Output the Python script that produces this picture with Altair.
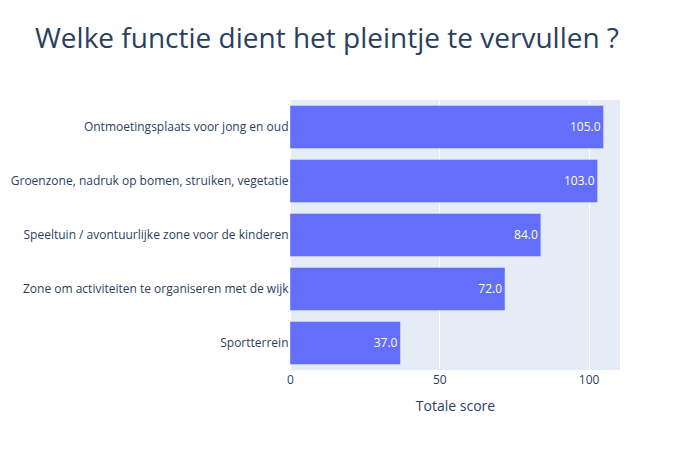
import altair as alt
import pandas as pd

categories = [
    "Ontmoetingsplaats voor jong en oud",
    "Groenzone, nadruk op bomen, struiken, vegetatie",
    "Speeltuin / avontuurlijke zone voor de kinderen",
    "Zone om activiteiten te organiseren met de wijk",
    "Sportterrein",
]
scores = [105.0, 103.0, 84.0, 72.0, 37.0]

df = pd.DataFrame({"functie": categories, "score": scores})
df["label"] = df["score"].map(lambda v: f"{v:.1f}")

FONT = "Open Sans"
TXT = "#2a3f5f"

base = alt.Chart(df).encode(
    y=alt.Y(
        "functie:N",
        sort=categories,
        title=None,
        scale=alt.Scale(paddingInner=0.2, paddingOuter=0.1),
        axis=alt.Axis(
            ticks=False, domain=False, grid=False, labelPadding=2,
            labelFont=FONT, labelFontSize=12, labelColor=TXT, labelLimit=400,
        ),
    ),
    x=alt.X(
        "score:Q",
        title="Totale score",
        scale=alt.Scale(domain=[0, 110.5], nice=False, zero=True),
        axis=alt.Axis(
            values=[0, 50, 100], ticks=False, domain=False, grid=True,
            gridColor="white", gridWidth=1, labelPadding=4, labelFlush=False,
            labelFont=FONT, labelFontSize=12, labelColor=TXT,
            titleFont=FONT, titleFontSize=14, titleColor=TXT,
            titleFontWeight="normal", titlePadding=14,
        ),
    ),
)

bars = base.mark_bar(color="#636efa", stroke="#E5ECF6", strokeWidth=0.5)
text = base.mark_text(
    align="right", baseline="middle", dx=-3, color="white",
    font=FONT, fontSize=12,
).encode(text="label:N")

chart = (
    (bars + text)
    .properties(
        width=330,
        height=270,
        autosize=alt.AutoSizeParams(type="none"),
        padding={"left": 282, "top": 92, "right": 70, "bottom": 70},
        title=alt.TitleParams(
            "Welke functie dient het pleintje te vervullen ?",
            anchor="start", frame="group", dx=-255, dy=-42,
            font=FONT, fontSize=28, fontWeight="normal", color=TXT,
        ),
        background="white",
    )
    .configure_view(fill="#E5ECF6", stroke=None)
)

chart.save("out.html", embed_options={"renderer": "svg", "actions": False})
